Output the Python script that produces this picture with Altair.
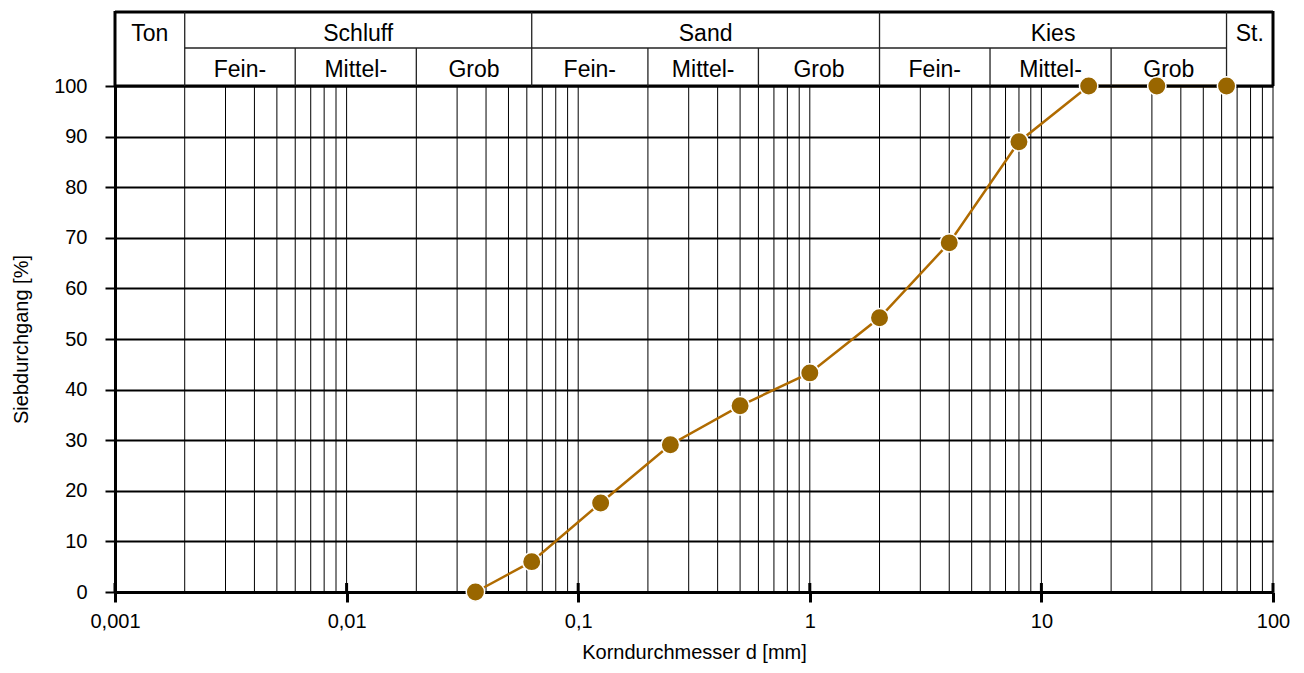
import altair as alt
import pandas as pd
import numpy as np

# ---- data ----
size_mm = [0.036, 0.063, 0.125, 0.25, 0.5, 1, 2, 4, 8, 16, 31.5, 63]
passing = [0, 6.0, 17.6, 29.1, 36.8, 43.3, 54.2, 69.0, 89.0, 100, 100, 100]

decades = [0.001, 0.01, 0.1, 1, 10]
multipliers = [1, 2, 3, 4, 5, 6, 7, 8, 9]
x_ticks = [0.001, 0.01, 0.1, 1, 10, 100]
y_ticks = [0, 10, 20, 30, 40, 50, 60, 70, 80, 90, 100]

main_bounds = [0.001, 0.002, 0.063, 2, 63, 100]
main_labels = ["Ton", "Schluff", "Sand", "Kies", "St."]
group_bounds = [[0.002, 0.006, 0.02, 0.063], [0.063, 0.2, 0.6, 2], [2, 6, 20, 63]]
sub_labels = ["Fein-", "Mittel-", "Grob"]

W, H = 1158, 506
FONT = "Liberation Sans"
HDR_TOP, HDR_MID = -74, -38

xscale = alt.Scale(type="log", domain=[0.001, 100], nice=False)
yscale = alt.Scale(domain=[0, 100], nice=False, zero=False)

label_expr = ("datum.value < 1 ? replace(format(datum.value, '~g'), '.', ',') "
              ": format(datum.value, '~g')")

X = alt.X("x:Q", scale=xscale, axis=alt.Axis(
    values=x_ticks, grid=False, labelExpr=label_expr, labelFlush=False,
    domainColor="black", domainWidth=3, tickColor="black", tickWidth=3,
    tickSize=10, labelFontSize=20, labelFont=FONT, labelColor="black",
    labelPadding=9, title="Korndurchmesser d [mm]", titleFont=FONT,
    titleFontSize=20, titleFontWeight="normal", titleColor="black",
    titleBaseline="alphabetic", titleY=66, titleX=W / 2))

Y = alt.Y("y:Q", scale=yscale, axis=alt.Axis(
    values=y_ticks, grid=True, gridColor="black", gridWidth=2,
    domainColor="black", domainWidth=3, tickColor="black", tickWidth=2,
    tickSize=10, labelFontSize=20, labelFont=FONT, labelColor="black",
    labelPadding=18, title="Siebdurchgang [%]", titleFont=FONT,
    titleFontSize=20, titleFontWeight="normal", titleColor="black",
    titleBaseline="alphabetic", titleX=-88, titleY=H / 2))

# vertical log grid
grid_df = pd.DataFrame({"x": [m * d for d in decades for m in multipliers] + [100]})
vgrid = alt.Chart(grid_df).mark_rule(color="black", strokeWidth=1).encode(
    x=X, y=alt.value(0), y2=alt.value(H))

# decade tick marks crossing the x axis (inner half)
dec_df = pd.DataFrame({"x": x_ticks})
dec_ticks = alt.Chart(dec_df).mark_rule(color="black", strokeWidth=3).encode(
    x=X, y=alt.value(H - 9), y2=alt.value(H))

# header frame
frame_df = pd.DataFrame({"x": [main_bounds[0]], "x2": [main_bounds[-1]]})
top_border = alt.Chart(frame_df).mark_rule(color="black", strokeWidth=3).encode(
    x=X, x2="x2:Q", y=alt.value(HDR_TOP))
plot_top = alt.Chart(frame_df).mark_rule(color="black", strokeWidth=3).encode(
    x=X, x2="x2:Q", y=alt.value(0))

mid_df = pd.DataFrame({"x": [main_bounds[1]], "x2": [main_bounds[-2]]})
mid_line = alt.Chart(mid_df).mark_rule(color="#222", strokeWidth=1.3).encode(
    x=X, x2="x2:Q", y=alt.value(HDR_MID))

side_df = pd.DataFrame({"x": [main_bounds[0], main_bounds[-1]]})
side_lines = alt.Chart(side_df).mark_rule(color="black", strokeWidth=3).encode(
    x=X, y=alt.value(HDR_TOP - 1), y2=alt.value(0))

inner_df = pd.DataFrame({"x": main_bounds[1:-1]})
inner_lines = alt.Chart(inner_df).mark_rule(color="#222", strokeWidth=1.3).encode(
    x=X, y=alt.value(HDR_TOP), y2=alt.value(0))

sub_x = [b for g in group_bounds for b in g[1:-1]]
sub_df = pd.DataFrame({"x": sub_x})
sub_lines = alt.Chart(sub_df).mark_rule(color="#222", strokeWidth=1.3).encode(
    x=X, y=alt.value(HDR_MID), y2=alt.value(0))

main_txt_df = pd.DataFrame({
    "x": [float(np.sqrt(main_bounds[i] * main_bounds[i + 1])) for i in range(len(main_labels))],
    "t": main_labels})
main_txt = alt.Chart(main_txt_df).mark_text(
    font=FONT, fontSize=23, color="black", baseline="alphabetic", align="center").encode(
    x=X, y=alt.value(-45), text="t:N")

sub_rows = []
for g in group_bounds:
    for i, lab in enumerate(sub_labels):
        sub_rows.append({"x": float(np.sqrt(g[i] * g[i + 1])), "t": lab})
sub_txt = alt.Chart(pd.DataFrame(sub_rows)).mark_text(
    font=FONT, fontSize=23, color="black", baseline="alphabetic", align="center").encode(
    x=X, y=alt.value(-9), text="t:N")

# data curve
data_df = pd.DataFrame({"x": size_mm, "y": passing})
line = alt.Chart(data_df).mark_line(color="#B06B00", strokeWidth=2.5).encode(x=X, y=Y)
points = alt.Chart(data_df).mark_point(
    shape="circle", filled=True, fill="#996600", stroke="white", strokeWidth=1.5,
    size=340, opacity=1).encode(x=X, y=Y)

chart = alt.layer(
    vgrid, line, dec_ticks, top_border, plot_top, mid_line, side_lines,
    inner_lines, sub_lines, main_txt, sub_txt, points
).properties(
    width=W, height=H,
    autosize=alt.AutoSizeParams(type="none"),
    padding={"left": 107, "top": 78, "right": 20, "bottom": 71},
    background="white",
).configure_view(stroke=None)

chart.save("out.html", embed_options={"renderer": "svg", "actions": False})
